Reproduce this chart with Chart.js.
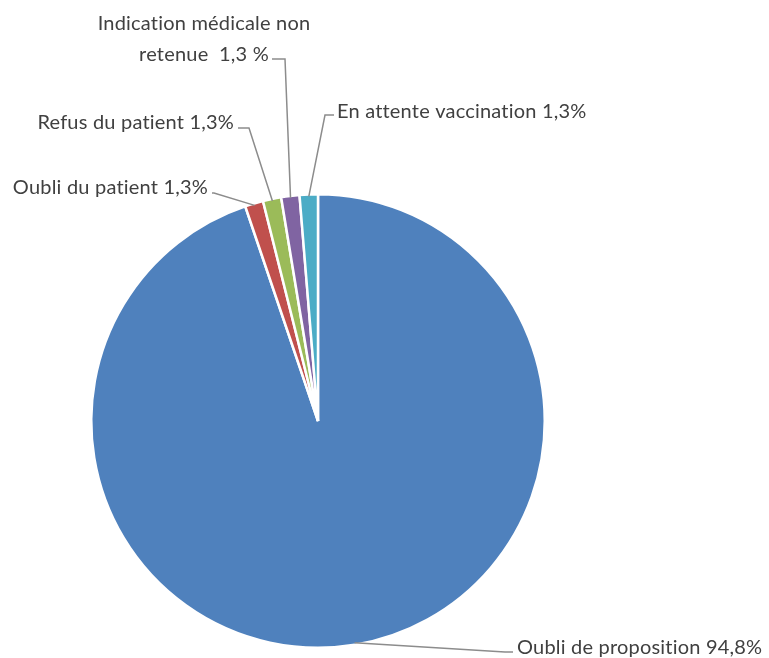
<!DOCTYPE html>
<html>
<head>
<meta charset="utf-8">
<script src="https://cdn.jsdelivr.net/npm/chart.js@4/dist/chart.umd.min.js"></script>
<style>
html,body{margin:0;padding:0;background:#fff;}
#wrap{width:769px;height:658px;position:relative;}
</style>
</head>
<body>
<div id="wrap"><canvas id="c" width="769" height="658"></canvas></div>
<script>
const categories = ["Oubli de proposition", "Oubli du patient", "Refus du patient", "Indication médicale non retenue", "En attente vaccination"];
const values = [94.8, 1.3, 1.3, 1.3, 1.3];
const labelTexts = [
  ["Oubli de proposition 94,8%"],
  ["Oubli du patient 1,3%"],
  ["Refus du patient 1,3%"],
  ["Indication médicale non", "retenue  1,3 %"],
  ["En attente vaccination 1,3%"]
];
const colors = ["#4F81BD", "#C0504D", "#9BBB59", "#8064A2", "#4BACC6"];

// layout for labels: elbow point, text anchor, alignment
const labelLayout = [
  {elbow:[505,652], text:[517,648], align:"left", lines:[0]},
  {elbow:[214,193], text:[208,188], align:"right", lines:[0]},
  {elbow:[249,128], text:[234,123], align:"right", lines:[0]},
  {elbow:[285,59], text:[204,24], align:"center", lines:[0,31], joinFrom:[272,59]},
  {elbow:[325,115], text:[337,112], align:"left", lines:[0], joinFrom:[334,115]}
];

const FONT = "20px Lato, 'Open Sans', sans-serif";

const labelPlugin = {
  id: "leaderLabels",
  afterDatasetsDraw(chart) {
    const ctx = chart.ctx;
    const meta = chart.getDatasetMeta(0);
    ctx.save();
    meta.data.forEach((arc, i) => {
      const p = arc.getProps(["x","y","startAngle","endAngle","outerRadius"], true);
      const mid = (p.startAngle + p.endAngle) / 2;
      const ax = p.x + Math.cos(mid) * (p.outerRadius - 2);
      const ay = p.y + Math.sin(mid) * (p.outerRadius - 2);
      const L = labelLayout[i];
      ctx.strokeStyle = "#8c8c8c";
      ctx.lineWidth = 1.5;
      ctx.beginPath();
      ctx.moveTo(ax, ay);
      ctx.lineTo(L.elbow[0], L.elbow[1]);
      if (L.joinFrom) ctx.lineTo(L.joinFrom[0], L.joinFrom[1]);
      else ctx.lineTo(L.align === "left" ? L.text[0] - 4 : L.text[0] + 4, L.elbow[1]);
      ctx.stroke();
      ctx.fillStyle = "#404040";
      ctx.font = FONT;
      try { ctx.letterSpacing = "0.2px"; } catch (e) {}
      ctx.textBaseline = "middle";
      ctx.textAlign = L.align;
      labelTexts[i].forEach((t, k) => {
        ctx.fillText(t, L.text[0], L.text[1] + (L.lines[k] || 0));
      });
    });
    ctx.restore();
  }
};

new Chart(document.getElementById("c"), {
  type: "pie",
  data: {
    labels: categories,
    datasets: [{
      data: values,
      backgroundColor: colors,
      borderColor: "#ffffff",
      borderWidth: 2.5
    }]
  },
  options: {
    responsive: false,
    animation: false,
    layout: { padding: { top: 193, bottom: 9, left: 0, right: 133 } },
    plugins: {
      legend: { display: false },
      tooltip: { enabled: false }
    }
  },
  plugins: [labelPlugin]
});
</script>
</body>
</html>
